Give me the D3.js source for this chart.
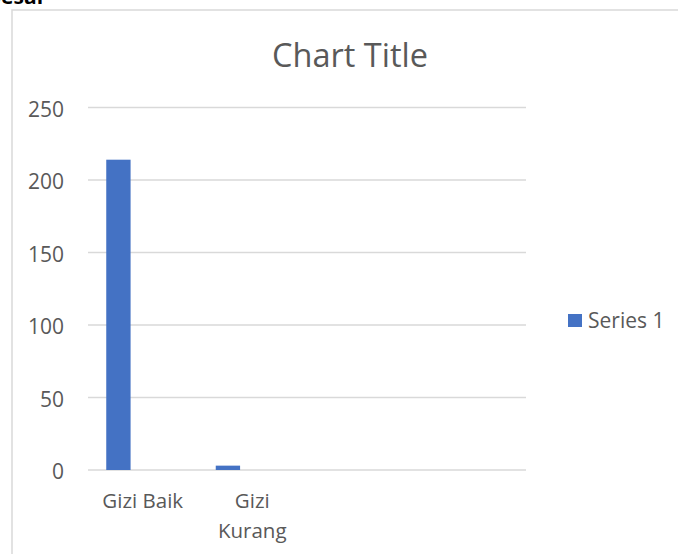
<!DOCTYPE html>
<html>
<head>
<meta charset="utf-8">
<script src="https://cdn.jsdelivr.net/npm/d3@7"></script>
<style>
  html, body { margin: 0; padding: 0; background: #fff; }
  svg { display: block; }
  text { font-family: "Open Sans", "Noto Sans", sans-serif; }
</style>
</head>
<body>
<svg id="chart" width="678" height="554"></svg>
<script>
// chart data
const categories = ['Gizi Baik', 'Gizi Kurang', '', ''];
const seriesKeys = ['Series 1', 'Series 2', 'Series 3'];
const series1 = [214, 3, null, null];
const yTicks = [0, 50, 100, 150, 200, 250];
const legendKeys = ['Series 1'];

const BAR_COLOR = '#4472c4';
const GRID_COLOR = '#d9d9d9';
const TEXT_COLOR = '#595959';

const svg = d3.select('#chart');

// clipped heading text from the surrounding document
svg.append('text')
  .attr('x', -13).attr('y', 4)
  .attr('font-family', 'Liberation Serif, serif')
  .attr('font-weight', 'bold')
  .attr('font-size', 21)
  .attr('fill', '#000')
  .text('Besar');

// chart frame (right and bottom fall outside the picture)
svg.append('path')
  .attr('d', 'M12,560 V10 H690')
  .attr('fill', 'none')
  .attr('stroke', GRID_COLOR)
  .attr('stroke-width', 1.5);

const x = d3.scaleBand()
  .domain(d3.range(categories.length))
  .range([88, 526]);

const xs = d3.scaleBand()
  .domain(seriesKeys)
  .range([0, x.bandwidth()])
  .paddingOuter(0.75);

const y = d3.scaleLinear()
  .domain([0, 250])
  .range([470, 107.5]);

// gridlines
svg.append('g')
  .selectAll('line')
  .data(yTicks)
  .enter().append('line')
  .attr('x1', 88).attr('x2', 526)
  .attr('y1', d => y(d)).attr('y2', d => y(d))
  .attr('stroke', GRID_COLOR)
  .attr('stroke-width', 1.3);

// y axis labels
const yAxis = svg.append('g')
  .attr('transform', 'translate(64,0)')
  .call(d3.axisLeft(y).tickValues(yTicks).tickSize(0).tickPadding(0));
yAxis.select('.domain').remove();
yAxis.selectAll('text')
  .attr('font-family', '"Open Sans", sans-serif')
  .attr('font-size', 21)
  .attr('fill', TEXT_COLOR)
  .attr('dy', '0.42em');

// bars
svg.append('g')
  .selectAll('rect')
  .data(series1.map((v, i) => ({ i, v })).filter(d => d.v != null))
  .enter().append('rect')
  .attr('x', d => x(d.i) + xs('Series 1'))
  .attr('y', d => y(d.v))
  .attr('width', xs.bandwidth())
  .attr('height', d => y(0) - y(d.v))
  .attr('fill', BAR_COLOR);

// category labels, wrapped like the office chart does
const xAxis = svg.append('g')
  .attr('transform', 'translate(0,470)')
  .call(d3.axisBottom(x).tickFormat(i => categories[i]).tickSize(0).tickPadding(0));
xAxis.select('.domain').remove();
xAxis.selectAll('text')
  .attr('font-family', '"Open Sans", sans-serif')
  .attr('font-size', 20.5)
  .attr('fill', TEXT_COLOR)
  .attr('y', 38)
  .attr('dy', null)
  .each(function () { wrap(d3.select(this), 100, 30); });

function wrap(textSel, maxWidth, lineHeight) {
  const words = textSel.text().split(/\s+/).filter(Boolean);
  if (!words.length) return;
  const y0 = +textSel.attr('y');
  textSel.text(null);
  let line = [];
  let lineNo = 0;
  let tspan = textSel.append('tspan').attr('x', 0).attr('y', y0);
  for (const w of words) {
    line.push(w);
    tspan.text(line.join(' '));
    if (tspan.node().getComputedTextLength() > maxWidth && line.length > 1) {
      line.pop();
      tspan.text(line.join(' '));
      line = [w];
      lineNo++;
      tspan = textSel.append('tspan').attr('x', 0).attr('y', y0 + lineNo * lineHeight).text(w);
    }
  }
}

// title
svg.append('text')
  .attr('x', 350).attr('y', 67)
  .attr('text-anchor', 'middle')
  .attr('font-size', 32.5)
  .attr('fill', TEXT_COLOR)
  .text('Chart Title');

// legend
const legend = svg.append('g')
  .selectAll('g')
  .data(legendKeys)
  .enter().append('g')
  .attr('transform', 'translate(568,314)');
legend.append('rect')
  .attr('width', 14).attr('height', 13)
  .attr('fill', BAR_COLOR);
legend.append('text')
  .attr('x', 20).attr('y', 13.5)
  .attr('font-size', 21)
  .attr('fill', TEXT_COLOR)
  .text(d => d);
</script>
</body>
</html>
